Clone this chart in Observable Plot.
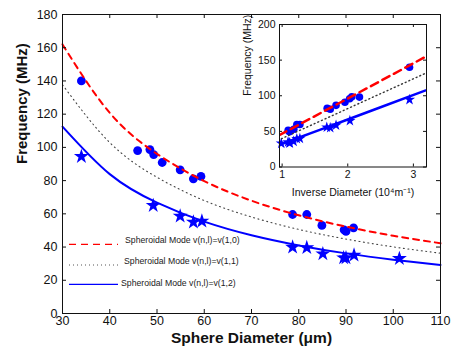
<!DOCTYPE html>
<html><head><meta charset="utf-8">
<script src="https://cdn.jsdelivr.net/npm/d3@7"></script>
<script src="https://cdn.jsdelivr.net/npm/@observablehq/plot@0.6"></script>
<style>
body{margin:0;background:#fff;}
#wrap{position:relative;width:469px;height:353px;font-family:"Liberation Sans",Arial,sans-serif;}
#wrap > *{position:absolute;}
</style></head>
<body><div id="wrap"></div>
<script>
// mode (1,0): circles
const diam10 = [34.0, 45.9, 48.5, 49.3, 51.1, 54.9, 57.7, 59.3, 78.7, 81.7, 84.9, 89.6, 90.0, 91.6];
const freq10 = [140, 98.1, 98.7, 95.7, 90.9, 86.5, 81.1, 82.5, 59.6, 59.6, 53.0, 50.4, 49.4, 51.6];
// mode (1,2): stars
const diam12 = [34.0, 49.2, 54.9, 57.7, 59.5, 78.7, 81.7, 85.1, 89.5, 90.0, 91.7, 101.3];
const freq12 = [94.5, 65.0, 58.6, 55.0, 55.6, 39.9, 39.6, 35.9, 33.5, 33.5, 35.1, 33.1];
// model curves read at these diameters
const curveD = [30, 40, 50, 60, 70, 80, 90, 100, 110];
const curve10 = [162.0, 120.8, 96.1, 79.7, 67.9, 59.1, 52.3, 46.8, 42.3];
const curve11 = [137.7, 102.9, 82.0, 68.0, 58.1, 50.6, 44.8, 40.1, 36.3];
const curve12 = [112.5, 83.9, 66.7, 55.3, 47.1, 41.0, 36.2, 32.4, 29.2];
// ticks
const xTicks = [30, 40, 50, 60, 70, 80, 90, 100, 110];
const yTicks = [0, 20, 40, 60, 80, 100, 120, 140, 160, 180];
const insetXTicks = [1, 2, 3];
const insetYTicks = [0, 50, 100, 150, 200];
const legendLabels = ["Spheroidal Mode v(n,l)=v(1,0)", "Spheroidal Mode v(n,l)=v(1,1)", "Spheroidal Mode v(n,l)=v(1,2)"];

const pts10 = diam10.map((d, i) => ({d, f: freq10[i]}));
const pts12 = diam12.map((d, i) => ({d, f: freq12[i]}));
const c10 = curveD.map((d, i) => ({d, f: curve10[i]}));
const c11 = curveD.map((d, i) => ({d, f: curve11[i]}));
const c12 = curveD.map((d, i) => ({d, f: curve12[i]}));
const RED = "#ff0000", BLUE = "#0000ff";

const W = 469, H = 353, mL = 62, mT = 14, mR = 29, mB = 40;
const pw = W - mL - mR, ph = H - mT - mB;
const main = Plot.plot({
  width: W, height: H, marginLeft: mL, marginTop: mT, marginRight: mR, marginBottom: mB,
  style: {fontFamily: "'Liberation Sans', Arial, sans-serif", fontSize: "12.5px", background: "transparent", color: "#111"},
  x: {domain: [30, 110]},
  y: {domain: [0, 180]},
  marks: [
    Plot.dot(pts10, {x: "d", y: "f", r: 4.4, fill: BLUE, stroke: "none"}),
    Plot.dot(pts12, {x: "d", y: "f", r: 4.7, symbol: "star", fill: BLUE, stroke: "none"}),
    Plot.line(c11, {x: "d", y: "f", curve: "natural", stroke: "#444", strokeWidth: 1.1, strokeDasharray: "1,3.5"}),
    Plot.line(c10, {x: "d", y: "f", curve: "natural", stroke: RED, strokeWidth: 2, strokeDasharray: "6,5"}),
    Plot.line(c12, {x: "d", y: "f", curve: "natural", stroke: BLUE, strokeWidth: 2}),
    Plot.frame({stroke: "#111", strokeWidth: 1}),
    Plot.tickX(xTicks, {x: d => d, insetTop: ph - 4, stroke: "#111"}),
    Plot.tickX(xTicks, {x: d => d, insetBottom: ph - 4, stroke: "#111"}),
    Plot.tickY(yTicks, {y: d => d, insetRight: pw - 4, stroke: "#111"}),
    Plot.tickY(yTicks, {y: d => d, insetLeft: pw - 4, stroke: "#111"}),
    Plot.axisX({ticks: xTicks, tickSize: 0, tickPadding: 3, label: null, fontSize: 12.5}),
    Plot.axisY({ticks: yTicks, tickSize: 0, tickPadding: 5, label: null, fontSize: 12.5}),
    Plot.text(["Sphere Diameter (\u03bcm)"], {frameAnchor: "bottom", dy: 29, text: d => d, fontWeight: "bold", fontSize: 15.5, fill: "#111"}),
    Plot.text(["Frequency (MHz)"], {frameAnchor: "left", dx: -40, rotate: -90, text: d => d, fontWeight: "bold", fontSize: 15, fill: "#111"})
  ]
});
main.style.left = "0px"; main.style.top = "0px";
document.getElementById("wrap").appendChild(main);

// inset
const iL = 230, iT = 10, iW = 210, iH = 200;
const imL = 49, imT = 14, imR = 14, imB = 43.5;
const ipw = iW - imL - imR, iph = iH - imT - imB;
const inv = d => 100 / d.d;
const inset = Plot.plot({
  width: iW, height: iH, marginLeft: imL, marginTop: imT, marginRight: imR, marginBottom: imB,
  style: {fontFamily: "'Liberation Sans', Arial, sans-serif", fontSize: "10.5px", background: "transparent", color: "#111"},
  x: {domain: [0.96, 3.2]},
  y: {domain: [0, 200]},
  marks: [
    Plot.frame({fill: "#fff"}),
    Plot.dot(pts10, {x: inv, y: "f", r: 3.8, fill: BLUE, stroke: "none"}),
    Plot.dot(pts12, {x: inv, y: "f", r: 3.5, symbol: "star", fill: BLUE, stroke: "none"}),
    Plot.line(c11, {x: inv, y: "f", stroke: "#333", strokeWidth: 1.4, strokeDasharray: "1,3", clip: true}),
    Plot.line(c10, {x: inv, y: "f", stroke: RED, strokeWidth: 2.5, strokeDasharray: "8,5", clip: true}),
    Plot.line(c12, {x: inv, y: "f", stroke: BLUE, strokeWidth: 2.5, clip: true}),
    Plot.frame({stroke: "#111", strokeWidth: 1}),
    Plot.tickX(insetXTicks, {x: d => d, insetTop: iph - 3, stroke: "#111"}),
    Plot.tickX(insetXTicks, {x: d => d, insetBottom: iph - 3, stroke: "#111"}),
    Plot.tickY(insetYTicks, {y: d => d, insetRight: ipw - 3, stroke: "#111"}),
    Plot.tickY(insetYTicks, {y: d => d, insetLeft: ipw - 3, stroke: "#111"}),
    Plot.axisX({ticks: insetXTicks, tickFormat: d => String(d), tickSize: 0, tickPadding: 4, label: null, fontSize: 10.5}),
    Plot.axisY({ticks: insetYTicks, tickFormat: d => String(d), tickSize: 0, tickPadding: 4, label: null, fontSize: 10.5}),
    Plot.text(["Inverse Diameter (10\u2074m\u207b\u00b9)"], {frameAnchor: "bottom", dy: 28.5, text: d => d, fontSize: 10.5, fill: "#111"}),
    Plot.text(["Frequency (MHz)"], {frameAnchor: "left", dx: -32, rotate: -90, text: d => d, fontSize: 10.5, fill: "#111"})
  ]
});
inset.style.left = iL + "px"; inset.style.top = iT + "px";
document.getElementById("wrap").appendChild(inset);

// legend (MATLAB-style, transparent box)
const lg = d3.create("svg").attr("width", W).attr("height", H)
  .style("left", "0px").style("top", "0px").style("pointer-events", "none")
  .style("font-family", "'Liberation Sans', Arial, sans-serif");
const legendRows = [
  {ly: 244.3, tx: 125, ty: 241, stroke: RED, dash: "7,5", w: 1.3},
  {ly: 265, tx: 124, ty: 262, stroke: "#555", dash: "1,3", w: 1},
  {ly: 284.3, tx: 121, ty: 283.5, stroke: BLUE, dash: null, w: 1.3}
];
legendRows.forEach((r, i) => {
  const l = lg.append("line").attr("x1", 69).attr("x2", 118).attr("y1", r.ly).attr("y2", r.ly)
    .attr("stroke", r.stroke).attr("stroke-width", r.w);
  if (r.dash) l.attr("stroke-dasharray", r.dash);
  lg.append("text").attr("x", r.tx).attr("y", r.ty).attr("dominant-baseline", "middle")
    .attr("font-size", 8.7).attr("fill", "#222").text(legendLabels[i]);
});
document.getElementById("wrap").appendChild(lg.node());
</script>
</body></html>
